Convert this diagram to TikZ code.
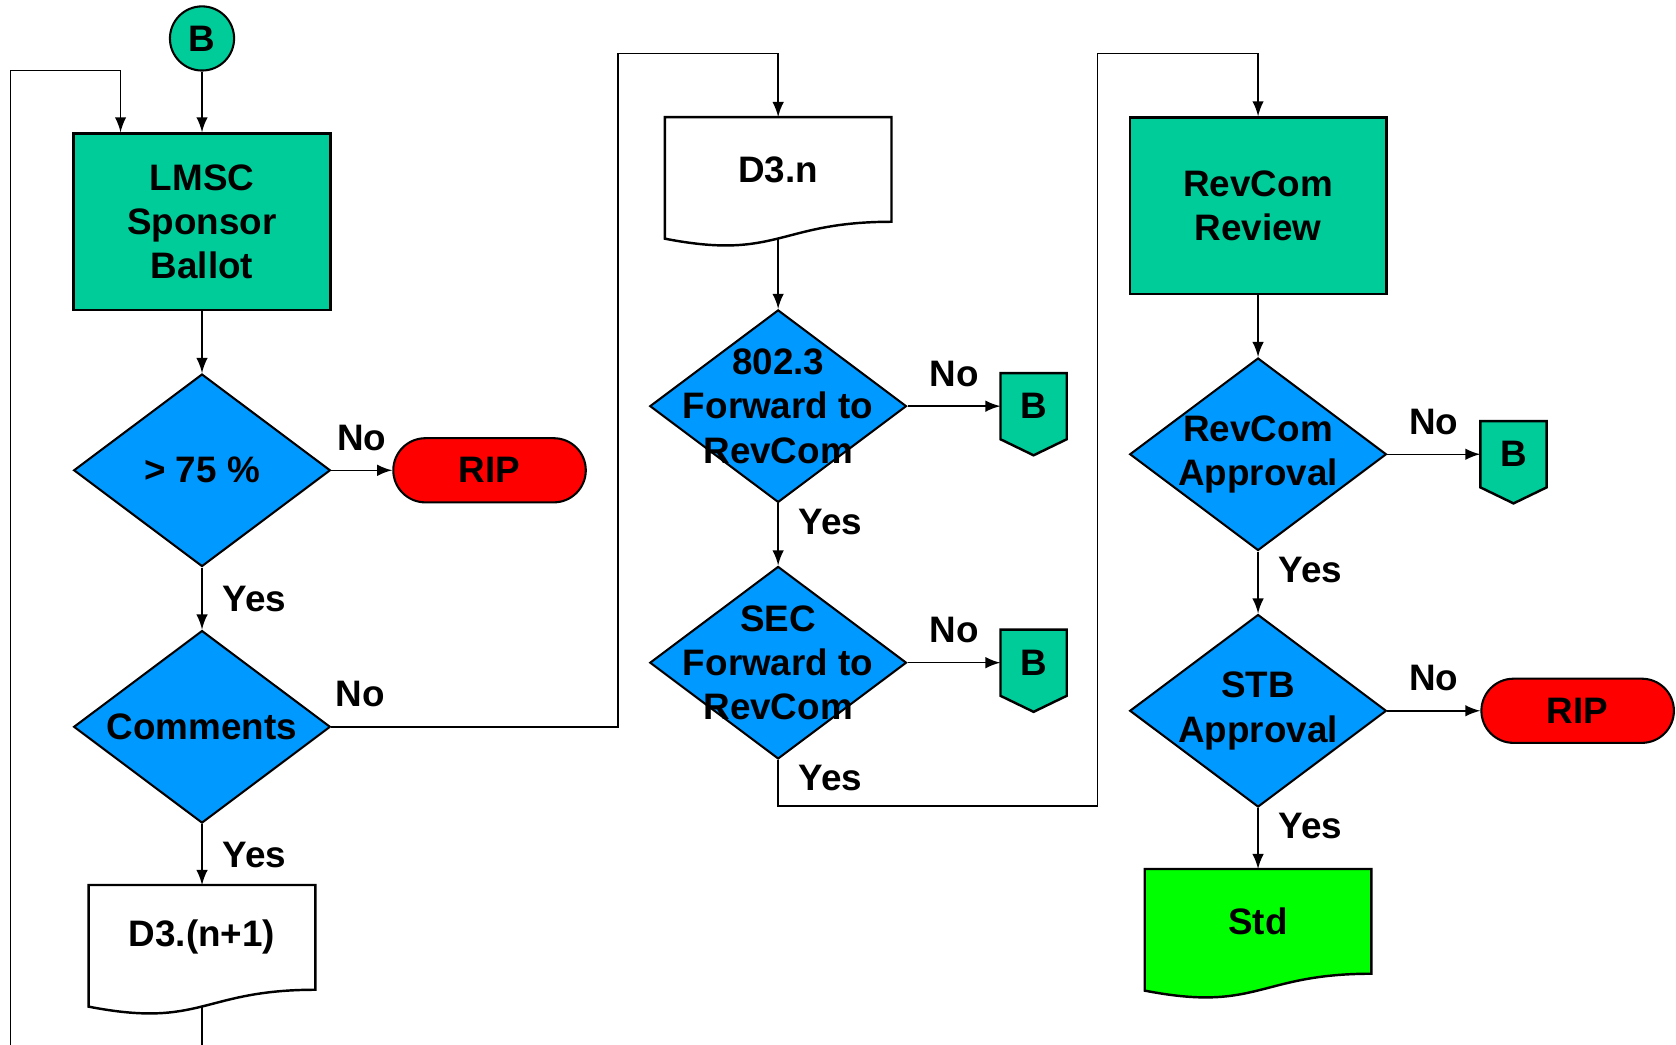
\documentclass[tikz,border=0pt]{standalone}
\usepackage{fontspec}
\setmainfont{Liberation Sans}
\usetikzlibrary{shapes.geometric,calc}

\definecolor{boxteal}{RGB}{0,204,153}
\definecolor{decblue}{RGB}{0,153,255}
\definecolor{ripred}{RGB}{255,0,0}
\definecolor{stdgreen}{RGB}{0,255,0}

\pgfdeclarelayer{background}
\pgfsetlayers{background,main}

\begin{document}
\begin{tikzpicture}[x=0.01cm,y=-0.01cm,
  font=\fontsize{9.8}{11.8}\selectfont\bfseries, line width=0.55pt,
  proc/.style={draw,line width=0.65pt,fill=boxteal,minimum width=2.4cm,minimum height=1.65cm,align=center},
  dec/.style={draw,diamond,fill=decblue,minimum width=2.4cm,minimum height=1.8cm,inner sep=0pt},
  rip/.style={draw,fill=ripred,rounded corners=0.3cm,minimum width=1.8cm,minimum height=0.6cm},
  docnode/.style={minimum width=2.1cm,minimum height=0.96cm,inner sep=0pt},
  offpage/.style={minimum width=0.6cm,minimum height=0.6cm,inner sep=0pt},
  conn/.style={draw,circle,fill=boxteal,minimum size=0.6cm,inner sep=0pt},
  yes/.style={right,xshift=0.07cm},
  no/.style={above,yshift=0.06cm}]

\useasboundingbox (0,0) rectangle (1568,977);

% left column
\node[conn] at (189,36) (bstart) {B};
\node[proc] at (189,207.5) (lmsc) {LMSC\\Sponsor\\Ballot};
\node[dec,label={center:{> 75 \%}}] at (189,440) (pct) {};
\node[rip] at (458,440) (rip1) {RIP};
\node[dec,label={center:Comments}] at (189,680) (comm) {};
\node[docnode] at (189,877) (dnext) {D3.(n+1)};

% middle column
\node[docnode] at (728,158.5) (dcur) {D3.n};
\node[dec,label={[align=center]center:{802.3\\Forward to\\RevCom}}] at (728,380) (fwd) {};
\node[offpage] at (967,380) (b1) {B};
\node[dec,label={[align=center]center:{SEC\\Forward to\\RevCom}}] at (728,620) (sec) {};
\node[offpage] at (967,620) (b2) {B};

% right column
\node[proc] at (1177,192.5) (rev) {RevCom\\Review};
\node[dec,label={[align=center]center:{RevCom\\Approval}}] at (1177,425) (revapp) {};
\node[offpage] at (1416,425) (b3) {B};
\node[dec,label={[align=center]center:{STB\\Approval}}] at (1177,665) (stb) {};
\node[rip] at (1476,665) (rip2) {RIP};
\node[docnode] at (1177,862) (std) {Std};

\begin{pgfonlayer}{background}
\foreach \d/\c in {dnext/white,dcur/white,std/stdgreen}
  \draw[fill=\c,line width=0.65pt] (\d.north west) -- (\d.north east) -- (\d.south east)
    .. controls (\d.south) and ($(\d.south)+(0,36.5)$) .. ($(\d.south west)+(0,15.8)$) -- cycle;
\foreach \b in {b1,b2,b3}
  \draw[fill=boxteal,line width=0.65pt] (\b.north west) -- (\b.north east) -- (\b.south east)
    -- ($(\b.south)+(0,15)$) -- (\b.south west) -- cycle;
\end{pgfonlayer}

\coordinate (dnext-tail) at ($(dnext.south)+(0,15.7)$);
\coordinate (dcur-tail) at ($(dcur.south)+(0,15.7)$);
\coordinate (loopin) at ($(lmsc.north west)+(45,0)$);

\draw[-latex] (bstart) -- (lmsc);
\draw[-latex] (lmsc) -- (pct);
\draw[-latex] (pct) -- node[no]{No} (rip1);
\draw[-latex] (pct) -- node[yes]{Yes} (comm);
\draw[-latex] (comm) -- node[yes]{Yes} (dnext);
\draw[-latex] (comm) -| node[no,pos=0.05]{No} (578,50) -| (dcur);
\draw[-latex] (dnext-tail) -- ++(0,60) -| (10,66) -| (loopin);

\draw[-latex] (dcur-tail) -- (fwd);
\draw[-latex] (fwd) -- node[no]{No} (b1);
\draw[-latex] (fwd) -- node[yes,pos=0.3]{Yes} (sec);
\draw[-latex] (sec) -- node[no]{No} (b2);
\draw[-latex] (sec) -- node[yes,pos=0.4]{Yes} (728,754) -| (1027,50) -| (rev);

\draw[-latex] (rev) -- (revapp);
\draw[-latex] (revapp) -- node[no]{No} (b3);
\draw[-latex] (revapp) -- node[yes,pos=0.3]{Yes} (stb);
\draw[-latex] (stb) -- node[no]{No} (rip2);
\draw[-latex] (stb) -- node[yes,pos=0.3]{Yes} (std);

\end{tikzpicture}
\end{document}
